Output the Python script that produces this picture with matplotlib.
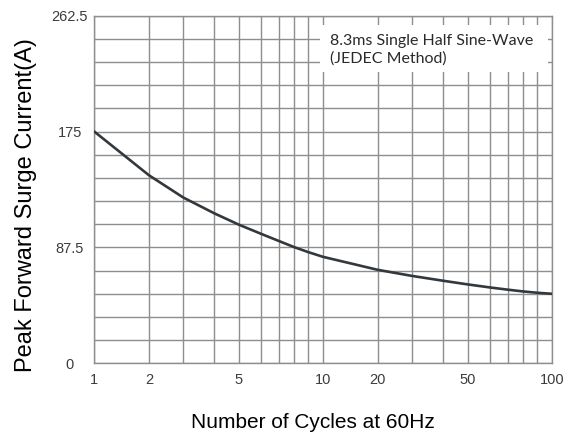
import numpy as np
import matplotlib
matplotlib.use("Agg")
import matplotlib.pyplot as plt
from matplotlib.patches import Rectangle

plt.rcParams["font.family"] = ["Liberation Sans", "DejaVu Sans"]

# ---- data ----
cycles = [1, 2, 3, 4, 5, 6, 7, 8, 9, 10, 20, 30, 40, 50, 60, 70, 80, 90, 100]
current = [175, 142.0, 125.2, 113.4, 104.7, 97.8, 92.3, 87.8, 84.0, 80.4,
           70.6, 66.0, 62.4, 59.6, 57.3, 55.6, 54.3, 53.3, 52.5]
x_major = [1, 2, 5, 10, 20, 50, 100]
x_major_labels = ["1", "2", "5", "10", "20", "50", "100"]
x_minor = [3, 4, 6, 7, 8, 9, 30, 40, 60, 70, 80, 90]
y_major = [0, 87.5, 175, 262.5]
y_major_labels = ["0", "87.5", "175", "262.5"]
y_minor = [17.5 * k for k in range(16) if k % 5 != 0]
note_lines = ["8.3ms Single Half Sine-Wave", "(JEDEC Method)"]
xlabel = "Number of Cycles at 60Hz"
ylabel = "Peak Forward Surge Current(A)"

# ---- axis scale of the chart paper (distorted log per decade) ----
_d = np.array([1, 2, 3, 4, 5, 6, 7, 8, 9, 10], dtype=float)
_p = np.array([0, 0.239, 0.389, 0.523, 0.632, 0.729, 0.808, 0.873, 0.935, 1.0])


def fwd(x):
    x = np.clip(np.asarray(x, dtype=float), 1e-6, None)
    lx = np.log10(x)
    dec = np.floor(lx + 1e-9)
    m = x / 10.0 ** dec
    return dec + np.interp(m, _d, _p)


def inv(y):
    y = np.asarray(y, dtype=float)
    dec = np.floor(y + 1e-9)
    frac = y - dec
    return np.interp(frac, _p, _d) * 10.0 ** dec


fig = plt.figure(figsize=(5.82, 4.41), dpi=100)
fig.patch.set_facecolor("white")
W, H = 582.0, 441.0
L, R, T, B = 94.3, 551.7, 15.7, 363.3
ax = fig.add_axes([L / W, 1 - B / H, (R - L) / W, (B - T) / H])

ax.set_xscale("function", functions=(fwd, inv))
ax.set_xlim(1, 100)
ax.set_ylim(0, 262.5)

grid_c = "#8e8e8e"
ax.set_axisbelow(True)
ax.set_xticks(x_major)
ax.set_xticklabels(x_major_labels)
ax.set_xticks(x_minor, minor=True)
ax.set_xticklabels([], minor=True)
ax.set_yticks(y_major)
ax.set_yticklabels(y_major_labels)
ax.set_yticks(y_minor, minor=True)
ax.set_yticklabels([], minor=True)
ax.grid(True, which="both", color=grid_c, linewidth=1.0)

ax.tick_params(axis="both", which="both", length=0)
ax.tick_params(axis="x", which="major", pad=7, labelsize=10.5, labelcolor="#3c3c3c")
ax.tick_params(axis="y", which="major", pad=17.5, labelsize=10.5, labelcolor="#3c3c3c")
for lab in ax.get_yticklabels():
    lab.set_horizontalalignment("center")

for s in ax.spines.values():
    s.set_color(grid_c)
    s.set_linewidth(1.0)

ax.plot(cycles, current, color="#33383d", linewidth=1.9, zorder=3,
        solid_capstyle="round", solid_joinstyle="round")

# note box
bx0, bx1 = (320 - L) / (R - L), (548.3 - L) / (R - L)
by0, by1 = (B - 72) / (B - T), (B - 25) / (B - T)
ax.add_patch(Rectangle((bx0, by0), bx1 - bx0, by1 - by0, transform=ax.transAxes,
                       facecolor="white", edgecolor="none", zorder=1))
tx = (330 - L) / (R - L)
ax.text(tx, (B - 45) / (B - T), note_lines[0], transform=ax.transAxes,
        fontsize=11.5, family="Lato", color="#2a2a2a", va="baseline", ha="left", zorder=4)
ax.text(tx, (B - 63) / (B - T), note_lines[1], transform=ax.transAxes,
        fontsize=11.5, family="Lato", color="#2a2a2a", va="baseline", ha="left", zorder=4)

fig.text(313 / W, 1 - 428 / H, xlabel, ha="center", va="baseline",
         fontsize=15, color="black")
fig.text(26 / W, 1 - 205 / H, ylabel, ha="center", va="center", rotation=90,
         fontsize=17, color="black")

fig.savefig("out.png", dpi=100, facecolor="white")
